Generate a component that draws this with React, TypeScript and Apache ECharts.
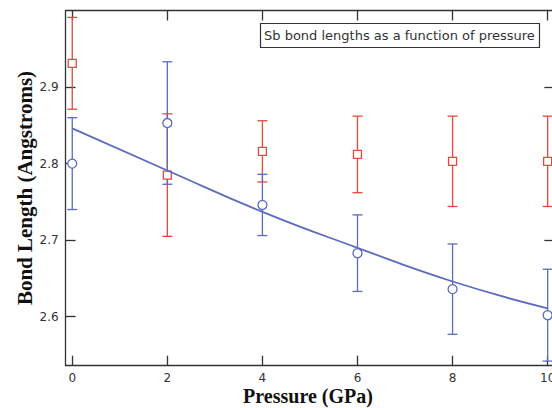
import React, { useEffect, useRef } from "react";
import * as echarts from "echarts";

const pressures = [0, 2, 4, 6, 8, 10];
const redValues = [2.931, 2.785, 2.816, 2.812, 2.803, 2.803];
const redErrors = [0.06, 0.08, 0.04, 0.05, 0.059, 0.059];
const blueValues = [2.8, 2.853, 2.746, 2.683, 2.636, 2.602];
const blueErrors = [0.06, 0.08, 0.04, 0.05, 0.059, 0.06];
const fitValues = [2.846, 2.791, 2.737, 2.69, 2.646, 2.611];
const xTicks = [0, 2, 4, 6, 8, 10];
const yTicks = [2.6, 2.7, 2.8, 2.9];
const titleText = "Sb bond lengths as a function of pressure";
const xTitle = "Pressure (GPa)";
const yTitle = "Bond Length (Angstroms)";

const RED = "#e8473e";
const BLUE = "#5b6cbf";
const AXIS = "#333333";

function errorSeries(values: number[], errors: number[], color: string) {
  return {
    type: "custom",
    xAxisIndex: 0,
    yAxisIndex: 0,
    data: pressures.map((p, i) => [p, values[i] - errors[i], values[i] + errors[i]]),
    renderItem: (params: any, api: any) => {
      const x = api.value(0);
      const lo = api.value(1);
      const hi = api.value(2);
      const a = api.coord([x, hi]);
      const b = api.coord([x, lo]);
      const w = 5;
      const style = { stroke: color, lineWidth: 1.3 };
      return {
        type: "group",
        children: [
          { type: "line", shape: { x1: a[0], y1: a[1], x2: b[0], y2: b[1] }, style },
          { type: "line", shape: { x1: a[0] - w, y1: a[1], x2: a[0] + w, y2: a[1] }, style },
          { type: "line", shape: { x1: b[0] - w, y1: b[1], x2: b[0] + w, y2: b[1] }, style },
        ],
      };
    },
    z: 2,
  };
}

export default function App() {
  const ref = useRef<HTMLDivElement>(null);
  useEffect(() => {
    document.body.style.margin = "0";
    const chart = echarts.init(ref.current!, null, { renderer: "svg" });
    const tickFont = { fontFamily: "DejaVu Sans", fontSize: 12, color: AXIS };
    const option: any = {
      animation: false,
      backgroundColor: "#ffffff",
      grid: {
        left: 65.6,
        width: 488.7,
        top: 10.5,
        height: 355.2,
        containLabel: false,
        outerBoundsMode: "none",
      },
      xAxis: [
        {
          type: "value",
          position: "bottom",
          min: -0.14,
          max: 10.14,
          axisLine: { show: true, onZero: false, lineStyle: { color: AXIS, width: 1.3 } },
          axisTick: { show: true, inside: true, length: 10, customValues: xTicks, lineStyle: { color: AXIS, width: 1.3 } },
          axisLabel: { show: true, margin: 6, customValues: xTicks, ...tickFont },
          splitLine: { show: false },
        },
        {
          type: "value",
          position: "top",
          min: -0.14,
          max: 10.14,
          axisLine: { show: true, onZero: false, lineStyle: { color: AXIS, width: 1.3 } },
          axisTick: { show: true, inside: true, length: 10, customValues: xTicks, lineStyle: { color: AXIS, width: 1.3 } },
          axisLabel: { show: false },
          splitLine: { show: false },
        },
      ],
      yAxis: [
        {
          type: "value",
          position: "left",
          min: 2.536,
          max: 3.0,
          axisLine: { show: true, onZero: false, lineStyle: { color: AXIS, width: 1.3 } },
          axisTick: { show: true, inside: true, length: 10, customValues: yTicks, lineStyle: { color: AXIS, width: 1.3 } },
          axisLabel: { show: true, margin: 7, customValues: yTicks, formatter: (v: number) => v.toFixed(1), ...tickFont },
          splitLine: { show: false },
        },
        {
          type: "value",
          position: "right",
          min: 2.536,
          max: 3.0,
          axisLine: { show: true, onZero: false, lineStyle: { color: AXIS, width: 1.3 } },
          axisTick: { show: true, inside: true, length: 10, customValues: yTicks, lineStyle: { color: AXIS, width: 1.3 } },
          axisLabel: { show: false },
          splitLine: { show: false },
        },
      ],
      series: [
        errorSeries(redValues, redErrors, RED),
        errorSeries(blueValues, blueErrors, BLUE),
        {
          type: "scatter",
          data: pressures.map((p, i) => [p, redValues[i]]),
          symbol: "rect",
          symbolSize: 8,
          itemStyle: { color: "#ffffff", borderColor: RED, borderWidth: 1.3, opacity: 1 },
          z: 3,
        },
        {
          type: "scatter",
          data: pressures.map((p, i) => [p, blueValues[i]]),
          symbol: "circle",
          symbolSize: 9,
          itemStyle: { color: "#ffffff", borderColor: BLUE, borderWidth: 1.3, opacity: 1 },
          z: 3,
        },
        {
          type: "line",
          data: pressures.map((p, i) => [p, fitValues[i]]),
          smooth: true,
          showSymbol: false,
          symbol: "none",
          lineStyle: { color: BLUE, width: 1.8 },
          z: 4,
        },
      ],
      graphic: [
        {
          type: "rect",
          shape: { x: 260.5, y: 23.5, width: 279, height: 24 },
          style: { fill: "#ffffff", stroke: AXIS, lineWidth: 1.2 },
          z: 10,
        },
        {
          type: "text",
          x: 264,
          y: 35.5,
          style: { text: titleText, fill: AXIS, font: "13px 'DejaVu Sans'", textAlign: "left", textVerticalAlign: "middle" },
          z: 11,
        },
        {
          type: "text",
          x: 308,
          y: 396,
          style: { text: xTitle, fill: "#111111", font: "bold 20px 'Liberation Serif'", textAlign: "center", textVerticalAlign: "middle" },
        },
        {
          type: "text",
          x: 25,
          y: 188,
          rotation: Math.PI / 2,
          style: { text: yTitle, fill: "#111111", font: "bold 21px 'Liberation Serif'", textAlign: "center", textVerticalAlign: "middle" },
        },
      ],
    };
    chart.setOption(option);
    return () => chart.dispose();
  }, []);
  return <div ref={ref} style={{ width: 552, height: 408 }} />;
}
